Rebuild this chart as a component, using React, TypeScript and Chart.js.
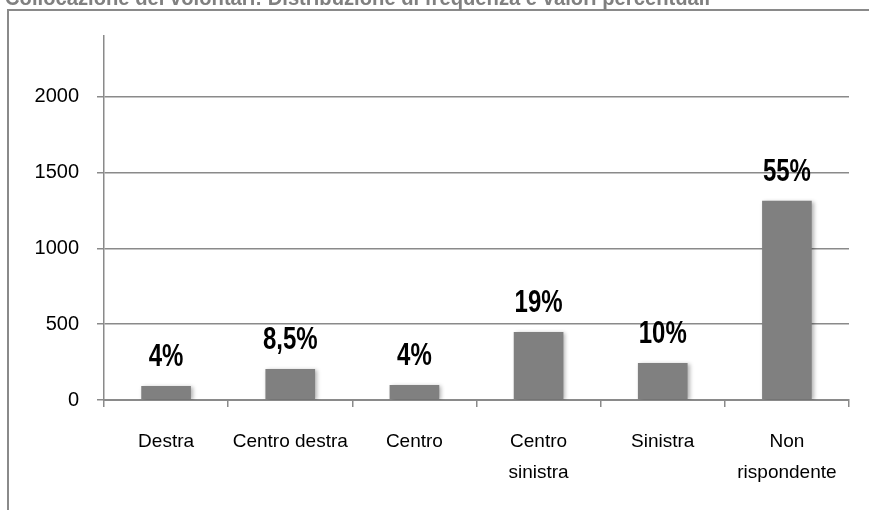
import React, { useEffect, useRef } from "react";
import { Chart, registerables } from "chart.js";

Chart.register(...registerables);

const TITLE = "Collocazione dei volontari: Distribuzione di frequenza e valori percentuali";
const categories: (string | string[])[] = [
  "Destra",
  "Centro destra",
  "Centro",
  ["Centro", "sinistra"],
  "Sinistra",
  ["Non", "rispondente"],
];
const frequencies = [92, 205, 99, 449, 244, 1313];
const percentLabels = ["4%", "8,5%", "4%", "19%", "10%", "55%"];
const yTickValues = [0, 500, 1000, 1500, 2000];
const yMax = 2400;

const FONT = "'Liberation Sans', Arial, sans-serif";
const GREY = "#8a8a8a";

const framePlugin = {
  id: "frameAndTitle",
  beforeDraw(chart: any) {
    const ctx = chart.ctx;
    ctx.save();
    ctx.fillStyle = "#ffffff";
    ctx.fillRect(0, 0, chart.width, chart.height);
    ctx.strokeStyle = GREY;
    ctx.lineWidth = 2;
    ctx.beginPath();
    ctx.moveTo(8, chart.height);
    ctx.lineTo(8, 10);
    ctx.lineTo(chart.width, 10);
    ctx.stroke();
    ctx.fillStyle = "#808080";
    ctx.font = `bold 22px ${FONT}`;
    ctx.textBaseline = "alphabetic";
    ctx.textAlign = "left";
    const w = ctx.measureText(TITLE).width;
    ctx.translate(5, 5);
    ctx.scale(705 / w, 1);
    ctx.fillText(TITLE, 0, 0);
    ctx.restore();
  },
};

const shadowPlugin = {
  id: "barShadow",
  beforeDatasetsDraw(chart: any) {
    const ctx = chart.ctx;
    ctx.save();
    ctx.shadowColor = "rgba(0,0,0,0.3)";
    ctx.shadowBlur = 4;
    ctx.shadowOffsetX = 2;
    ctx.shadowOffsetY = 1;
  },
  afterDatasetsDraw(chart: any) {
    chart.ctx.restore();
  },
};

const labelPlugin = {
  id: "percentLabels",
  afterDatasetsDraw(chart: any) {
    const ctx = chart.ctx;
    const meta = chart.getDatasetMeta(0);
    meta.data.forEach((bar: any, i: number) => {
      ctx.save();
      ctx.fillStyle = "#000000";
      ctx.font = `bold 32px ${FONT}`;
      ctx.textAlign = "center";
      ctx.textBaseline = "middle";
      ctx.translate(bar.x, bar.y - 29);
      ctx.scale(0.75, 1);
      ctx.fillText(percentLabels[i], 0, 0);
      ctx.restore();
    });
  },
};

export default function App() {
  const canvasRef = useRef<HTMLCanvasElement | null>(null);

  useEffect(() => {
    if (!canvasRef.current) return;
    const chart = new Chart(canvasRef.current, {
      type: "bar",
      data: {
        labels: categories,
        datasets: [
          {
            data: frequencies,
            backgroundColor: "#808080",
            borderWidth: 0,
            barPercentage: 0.4,
            categoryPercentage: 1,
          },
        ],
      },
      options: {
        responsive: false,
        animation: false,
        layout: { padding: { left: 0, top: 36, right: 20, bottom: 0 } },
        plugins: {
          legend: { display: false },
          tooltip: { enabled: false },
          title: { display: false },
        },
        scales: {
          x: {
            offset: true,
            grid: {
              offset: true,
              drawOnChartArea: false,
              drawTicks: true,
              tickLength: 7,
              color: GREY,
              lineWidth: 1.5,
            },
            border: { display: true, color: GREY, width: 2 },
            ticks: {
              color: "#000000",
              font: { family: FONT, size: 19, lineHeight: 1.63 },
              padding: 19,
              maxRotation: 0,
              autoSkip: false,
            },
            afterFit: (scale: any) => {
              scale.height = 110;
            },
          },
          y: {
            min: 0,
            max: yMax,
            ticks: {
              color: "#000000",
              font: { family: FONT, size: 20 },
              padding: 18,
              callback: (v: any) => String(v),
            },
            afterBuildTicks: (scale: any) => {
              scale.ticks = yTickValues.map((v) => ({ value: v }));
            },
            grid: {
              color: GREY,
              lineWidth: 1.5,
              tickLength: 7,
              drawTicks: true,
            },
            border: { display: true, color: GREY, width: 1.5 },
            afterFit: (scale: any) => {
              scale.width = 104;
            },
          },
        },
      },
      plugins: [framePlugin, shadowPlugin, labelPlugin],
    });
    return () => chart.destroy();
  }, []);

  return (
    <div style={{ position: "absolute", left: 0, top: 0, width: 869, height: 510 }}>
      <canvas ref={canvasRef} width={869} height={510} style={{ display: "block" }} />
    </div>
  );
}
